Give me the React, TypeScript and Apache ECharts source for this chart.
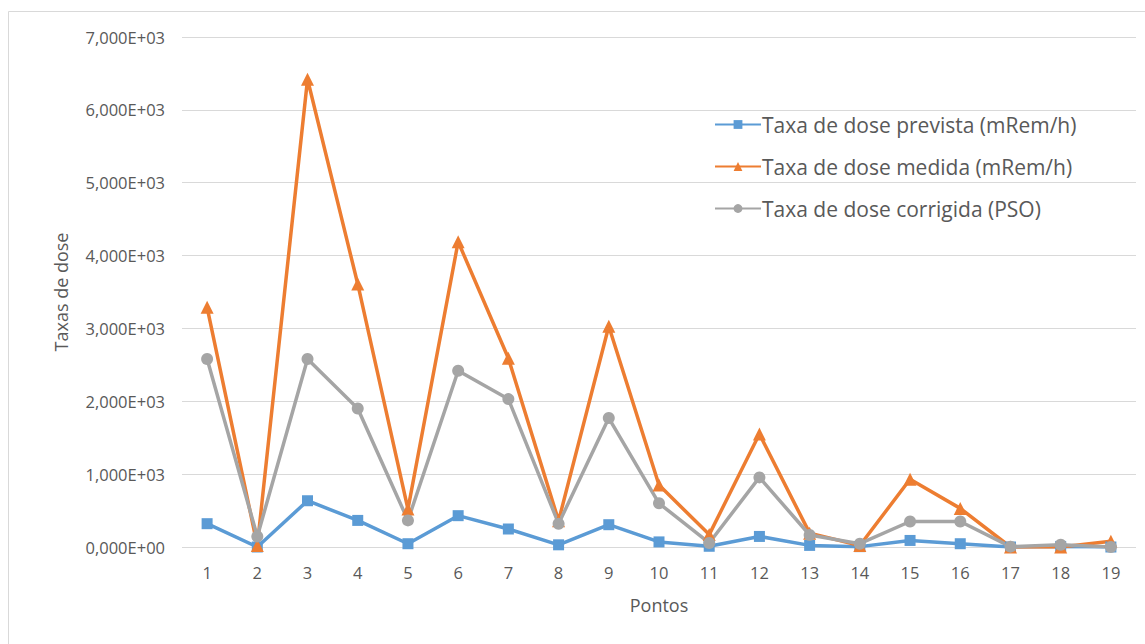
import React, { useEffect, useRef } from "react";
import * as echarts from "echarts";

const categories = ["1","2","3","4","5","6","7","8","9","10","11","12","13","14","15","16","17","18","19"];
const prevista = [320, 0, 635, 365, 45, 430, 247, 30, 306, 70, 10, 145, 22, 5, 90, 45, 0, 8, 0];
const medida = [3290, 20, 6420, 3610, 520, 4190, 2590, 360, 3030, 850, 170, 1550, 190, 20, 930, 530, 0, 0, 80];
const corrigida = [2580, 145, 2580, 1900, 365, 2420, 2030, 320, 1770, 600, 55, 955, 165, 45, 350, 350, 5, 30, 0];
const seriesNames = [
  "Taxa de dose prevista (mRem/h)",
  "Taxa de dose medida (mRem/h)",
  "Taxa de dose corrigida (PSO)",
];

const FONT = "Open Sans";
const TEXT = "#595959";

function fmt(v: number): string {
  if (v === 0) return "0,000E+00";
  return (v / 1000).toFixed(3).replace(".", ",") + "E+03";
}

export default function App() {
  const ref = useRef<HTMLDivElement>(null);
  useEffect(() => {
    if (!ref.current) return;
    const chart = echarts.init(ref.current, null, { renderer: "svg" });
    const mk = (name: string, data: number[], color: string, symbol: string, size: number) => ({
      name,
      type: "line",
      data,
      symbol,
      symbolSize: size,
      showAllSymbol: true,
      lineStyle: { color, width: 3.5 },
      itemStyle: { color },
    });
    chart.setOption({
      animation: false,
      backgroundColor: "#ffffff",
      textStyle: { fontFamily: FONT },
      graphic: [
        {
          type: "rect",
          shape: { x: 8.5, y: 11.5, width: 1200, height: 700 },
          style: { fill: "none", stroke: "#d9d9d9", lineWidth: 1 },
          silent: true,
        },
      ],
      grid: { left: 182, right: 9, top: 37, bottom: 97 },
      legend: {
        orient: "vertical",
        left: 709,
        top: 109,
        itemWidth: 46,
        itemHeight: 11,
        itemGap: 21,
        data: seriesNames,
        textStyle: { fontFamily: FONT, fontSize: 21, color: TEXT, padding: [0, 0, 0, -4] },
      },
      xAxis: {
        type: "category",
        data: categories,
        boundaryGap: true,
        name: "Pontos",
        nameLocation: "middle",
        nameGap: 49,
        nameTextStyle: { fontFamily: FONT, fontSize: 18, color: TEXT },
        axisLine: { show: false },
        axisTick: { show: false },
        axisLabel: { fontFamily: FONT, fontSize: 16.5, color: TEXT, margin: 17 },
      },
      yAxis: {
        type: "value",
        min: 0,
        max: 7000,
        interval: 1000,
        name: "Taxas de dose",
        nameLocation: "middle",
        nameGap: 112,
        nameTextStyle: { fontFamily: FONT, fontSize: 18, color: TEXT },
        axisLine: { show: false },
        axisTick: { show: false },
        axisLabel: { fontFamily: FONT, fontSize: 16.5, color: TEXT, margin: 17, formatter: (v: number) => fmt(v) },
        splitLine: { lineStyle: { color: "#d9d9d9", width: 1 } },
      },
      series: [
        mk(seriesNames[0], prevista, "#5B9BD5", "rect", 11),
        mk(seriesNames[1], medida, "#ED7D31", "triangle", 13),
        mk(seriesNames[2], corrigida, "#A5A5A5", "circle", 12),
      ],
    });
    return () => chart.dispose();
  }, []);
  return <div ref={ref} style={{ position: "absolute", left: 0, top: 0, width: 1145, height: 644 }} />;
}
